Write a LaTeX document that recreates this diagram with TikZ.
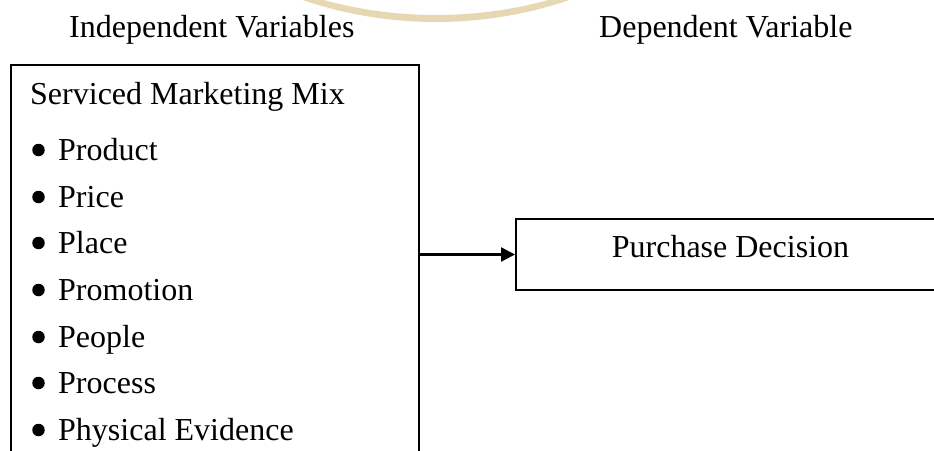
\documentclass[tikz,border=0pt]{standalone}
\usepackage{fontspec}
\setmainfont{Liberation Serif}
\usetikzlibrary{arrows.meta}
\definecolor{wmark}{HTML}{E6D8B2}
\tikzset{
  x=1pt, y=1pt,
  txt/.style={anchor=base west, inner sep=0pt, font=\fontsize{32}{38}\selectfont},
  frame/.style={draw=black, line width=2pt, rectangle, inner sep=0pt},
  conn/.style={draw=black, line width=2.4pt, -{Triangle[length=14pt,width=14pt]}},
  dot/.style={circle, fill=black, inner sep=0pt, minimum size=12.5pt}
}
\begin{document}
\begin{tikzpicture}
\useasboundingbox (0,0) rectangle (934,-450);
\clip (0,0) rectangle (934,-450);
% watermark arc
\fill[wmark, even odd rule] (436,391) circle (413) (436,410.6) circle (425.6);
% boxes
\node[frame, minimum width=408pt, minimum height=420pt] (mix) at (215,-275) {};
\node[frame, minimum width=444pt, minimum height=71pt] (pd) at (738,-254.5) {};
% headers
\node[txt] (hind) at (69,-37) {Independent Variables};
\node[txt] (hdep) at (599,-37) {Dependent Variable};
% left box content
\node[txt] (title) at (30,-104) {Serviced Marketing Mix};
\foreach \name/\y/\lab in {i1/160/Product, i2/207/Price, i3/253/Place, i4/300/Promotion, i5/347/People, i6/393/Process, i7/440/Physical Evidence}{
  \node[dot] (b\name) at (38.5,-\y+10) {};
  \node[txt] (\name) at (58,-\y) {\lab};
}
% right box text
\node[txt, anchor=base] (pdt) at (730.5,-257) {Purchase Decision};
% connector
\draw[conn] (mix.east |- pd.west) -- (pd.west);
\end{tikzpicture}
\end{document}
